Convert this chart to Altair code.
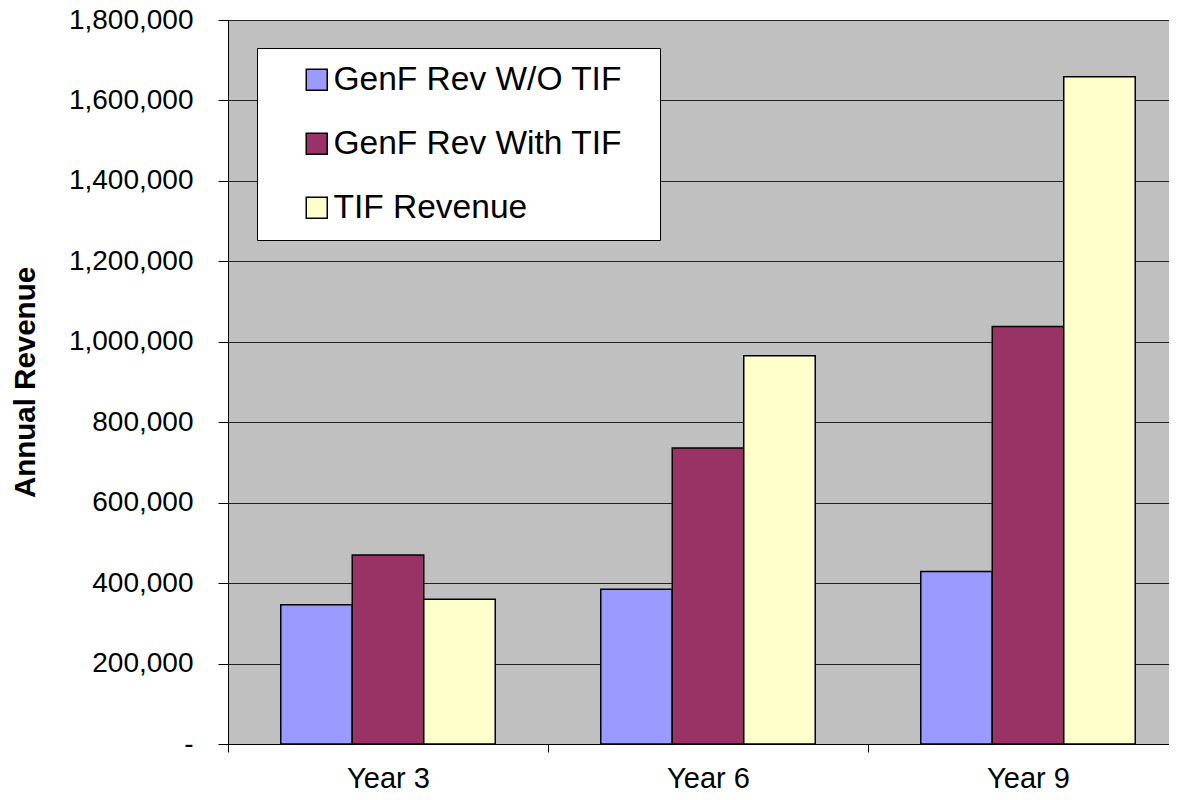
import altair as alt
import pandas as pd

years = ["Year 3", "Year 6", "Year 9"]
series = ["GenF Rev W/O TIF", "GenF Rev With TIF", "TIF Revenue"]
rev_without_tif = [346000, 385000, 429000]
rev_with_tif = [470000, 736000, 1038000]
tif_revenue = [360000, 965000, 1659000]
colors = ["#9999FF", "#993366", "#FFFFCC"]
y_ticks = [0, 200000, 400000, 600000, 800000, 1000000, 1200000, 1400000, 1600000, 1800000]

rows = []
for i, yr in enumerate(years):
    for s, vals in zip(series, [rev_without_tif, rev_with_tif, tif_revenue]):
        rows.append({"year": yr, "series": s, "value": vals[i]})
df = pd.DataFrame(rows)

font = "Liberation Sans"

chart = alt.Chart(df).mark_bar(stroke="black", strokeWidth=1.5).encode(
    x=alt.X(
        "year:N", sort=years, title=None,
        scale=alt.Scale(paddingInner=0, paddingOuter=0),
        axis=alt.Axis(tickBand="extent", labelAngle=0, labelFontSize=29, labelFont=font,
                      labelColor="black", tickSize=8, labelPadding=12, grid=False,
                      domainColor="black", tickColor="black"),
    ),
    xOffset=alt.XOffset("series:N", sort=series,
                        scale=alt.Scale(paddingInner=0, paddingOuter=0.738)),
    y=alt.Y(
        "value:Q", title="Annual Revenue",
        scale=alt.Scale(domain=[0, 1800000], nice=False),
        axis=alt.Axis(values=y_ticks,
                      labelExpr="datum.value == 0 ? '-\u00a0\u00a0\u00a0\u00a0' : format(datum.value, ',')",
                      labelFontSize=28, labelFont=font, labelColor="black",
                      tickSize=10, labelPadding=25, tickColor="black", domainColor="black",
                      grid=True, gridColor="#222222", gridWidth=1,
                      titleFontSize=29.5, titleFont=font, titleFontWeight="bold",
                      titleColor="black", titlePadding=28),
    ),
    color=alt.Color(
        "series:N", sort=series,
        scale=alt.Scale(domain=series, range=colors),
        legend=alt.Legend(
            orient="none", legendX=29, legendY=28,
            title="\u00a0", titleOrient="right", titlePadding=23, titleFontSize=1,
            fillColor="white", strokeColor="black", padding=15,
            symbolType="square", symbolSize=441, symbolStrokeColor="black",
            symbolStrokeWidth=1.5, symbolOffset=28, symbolOpacity=1,
            labelFontSize=33.5, labelFont=font, labelColor="black", labelOffset=0,
            rowPadding=29, labelLimit=0,
        ),
    ),
).properties(
    width=960, height=724,
    autosize=alt.AutoSizeParams(type="none"),
    padding={"left": 220, "top": 12, "right": -19, "bottom": 48},
    background="white",
).configure_view(fill="#C0C0C0", strokeWidth=0)

chart.save("out.html", embed_options={"renderer": "svg", "actions": False})
